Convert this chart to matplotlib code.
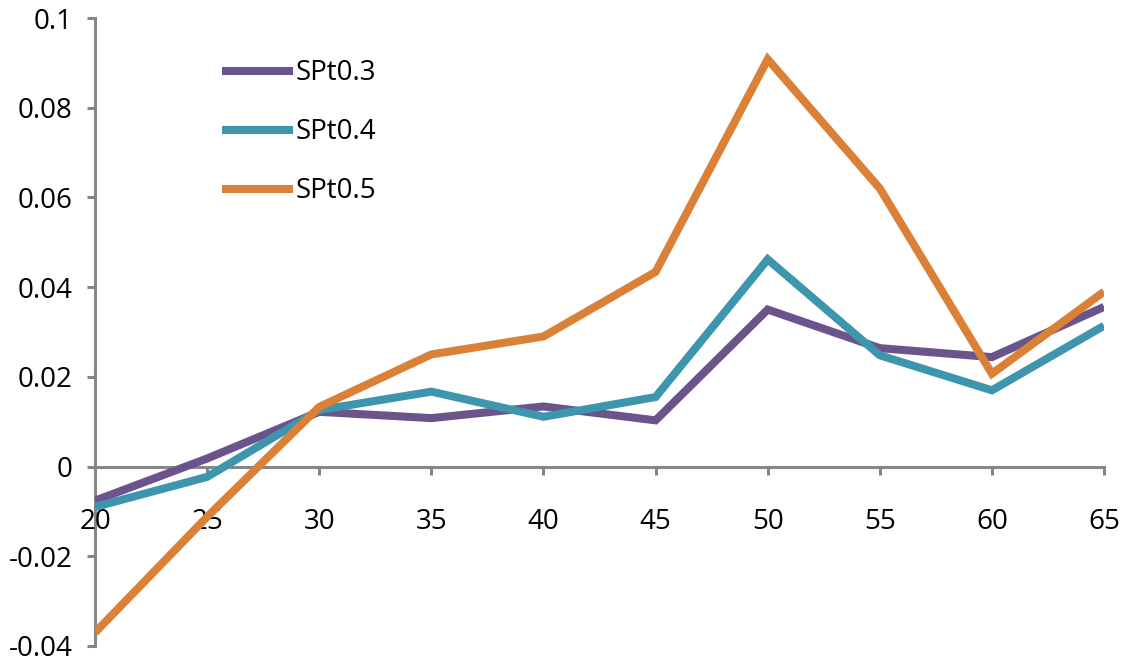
import numpy as np
import matplotlib.pyplot as plt

x = [20, 25, 30, 35, 40, 45, 50, 55, 60, 65]
spt03 = [-0.0076, 0.0018, 0.0122, 0.0108, 0.0134, 0.0103, 0.0350, 0.0264, 0.0244, 0.0356]
spt04 = [-0.0090, -0.0023, 0.0126, 0.0167, 0.0111, 0.0155, 0.0462, 0.0248, 0.0170, 0.0314]
spt05 = [-0.0370, -0.0112, 0.0133, 0.0250, 0.0290, 0.0434, 0.0908, 0.0620, 0.0207, 0.0390]
yticks = [-0.04, -0.02, 0, 0.02, 0.04, 0.06, 0.08, 0.1]
ylabels = ['-0.04', '-0.02', '0', '0.02', '0.04', '0.06', '0.08', '0.1']

plt.rcParams['font.family'] = ['Open Sans', 'DejaVu Sans']

fig = plt.figure(figsize=(11.26, 6.67), dpi=100)
ax = fig.add_axes([0.0844, 0.0315, 0.8961, 0.9415])

lw = 5.8
ax.plot(x, spt03, color='#6b548c', lw=lw, label='SPt0.3', solid_joinstyle='miter', solid_capstyle='butt')
ax.plot(x, spt04, color='#3d96ae', lw=lw, label='SPt0.4', solid_joinstyle='miter', solid_capstyle='butt')
ax.plot(x, spt05, color='#db8037', lw=lw, label='SPt0.5', solid_joinstyle='miter', solid_capstyle='butt')

ax.set_xlim(20, 65)
ax.set_ylim(-0.04, 0.1)

grey = '#868686'
ax.spines['top'].set_visible(False)
ax.spines['right'].set_visible(False)
ax.spines['bottom'].set_position(('data', 0))
for s in ('left', 'bottom'):
    ax.spines[s].set_color(grey)
    ax.spines[s].set_linewidth(2.2)
    ax.spines[s].set_zorder(1)

ax.set_yticks(yticks)
ax.set_yticklabels(ylabels)
ax.set_xticks(x)
ax.set_xticklabels([str(v) for v in x])
ax.tick_params(axis='y', direction='out', length=6, width=2.2, color=grey,
               labelsize=20, pad=10)
ax.tick_params(axis='x', direction='out', length=6, width=2.2, color=grey,
               labelsize=20, pad=24)

ax.legend(loc='upper left', bbox_to_anchor=(0.115, 0.952), frameon=False,
          fontsize=20, handlelength=2.55, handletextpad=0.08, labelspacing=1.12,
          borderaxespad=0)

fig.savefig('out.png', dpi=100)
